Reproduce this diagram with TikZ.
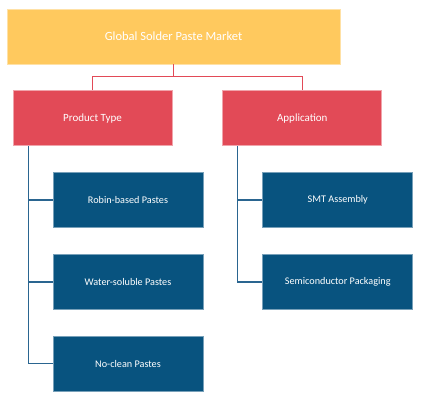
\documentclass[tikz,border=0pt]{standalone}
\usepackage{fontspec}
\setmainfont{Carlito}
\usetikzlibrary{positioning}
\definecolor{boxTop}{HTML}{FFC95E}
\definecolor{boxCat}{HTML}{E24A57}
\definecolor{boxLeaf}{HTML}{08537F}
\definecolor{linkBlue}{HTML}{2A6590}

\begin{document}
\begin{tikzpicture}[
    x=1pt, y=1pt,
    node distance=26pt,
    topbox/.style={draw=boxTop!55!white, fill=boxTop, line width=0.8pt,
                   minimum width=333pt, minimum height=55pt,
                   font=\fontsize{12.5}{14}\selectfont, text=white},
    catbox/.style={draw=boxCat!50!white, fill=boxCat, line width=0.8pt,
                   minimum width=159pt, minimum height=55pt,
                   font=\fontsize{11}{13}\selectfont, text=white},
    leafbox/.style={draw=boxLeaf!55!white, fill=boxLeaf, line width=0.8pt,
                    minimum width=150pt, minimum height=55pt,
                    font=\fontsize{10.2}{12}\selectfont, text=white},
    redlink/.style={draw=boxCat, line width=1.5pt},
    bluelink/.style={draw=linkBlue, line width=1.3pt},
]
\useasboundingbox (0,0) rectangle (421,-403);

% Root
\node[topbox] (market) at (173.5,-36.5) {Global Solder Paste Market};

% Segments
\node[catbox, below=of market.south west, anchor=north west, xshift=6pt]
    (product) {Product Type};
\node[catbox, right=50pt of product] (application) {Application};

% Product types
\node[leafbox, below=of product.south west, anchor=north west, xshift=40pt]
    (robin) {Robin-based Pastes};
\node[leafbox, below=of robin] (water) {Water-soluble Pastes};
\node[leafbox, below=of water] (noclean) {No-clean Pastes};

% Applications
\node[leafbox, below=of application.south west, anchor=north west, xshift=40pt]
    (smt) {SMT Assembly};
\node[leafbox, below=of smt] (semi) {Semiconductor Packaging};

% Links
\draw[redlink] (market.south) -- ++(0,-12pt) -| (product.north);
\draw[redlink] (market.south) -- ++(0,-12pt) -| (application.north);

\coordinate (ptrunk) at ([xshift=16pt]product.south west);
\coordinate (atrunk) at ([xshift=15pt]application.south west);
\foreach \leaf in {robin, water, noclean}
    \draw[bluelink] (ptrunk) |- (\leaf.west);
\foreach \leaf in {smt, semi}
    \draw[bluelink] (atrunk) |- (\leaf.west);
\end{tikzpicture}
\end{document}
